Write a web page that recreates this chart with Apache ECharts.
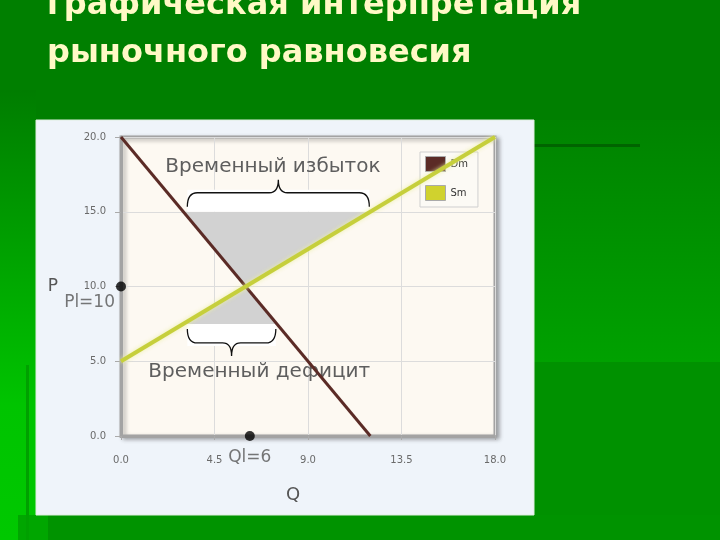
<!DOCTYPE html>
<html>
<head>
<meta charset="utf-8">
<script src="https://cdn.jsdelivr.net/npm/echarts@6/dist/echarts.min.js"></script>
<style>
html, body { margin: 0; padding: 0; background: #008a00; }
#chart { width: 720px; height: 540px; }
</style>
</head>
<body>
<div id="chart"></div>
<script>
// спрос и предложение
var demandLine = [[0, 20], [12, 0]]
var supplyLine = [[0, 5], [18, 20]]
// серые треугольники избытка и дефицита
var surplusArea = [[3, 15], [12, 15], [6, 10]]
var deficitArea = [[3, 7.5], [7.5, 7.5], [6, 10]]
// точки на осях
var eqPoints = [[0, 10, 'Pl=10'], [6.2, 0, 'Ql=6']]
// скобки: от Q, до Q, цена, подпись
var braces = [[3, 12, 15, 'Временный избыток'], [3, 7.5, 7.5, 'Временный дефицит']]
var xTicks = [0, 4.5, 9, 13.5, 18]
var yTicks = [0, 5, 10, 15, 20]
var titleLines = ['графическая интерпретация', 'рыночного равновесия']

var eqPrice = eqPoints[0][1]

function flat (tri) {
  var out = []
  tri.forEach(function (p) { out.push(p[0], p[1]) })
  return out
}

function renderTriangle (params, api) {
  var pts = []
  for (var i = 0; i < 3; i++) {
    pts.push(api.coord([api.value(i * 2), api.value(i * 2 + 1)]))
  }
  return { type: 'polygon', shape: { points: pts }, style: { fill: '#d2d2d2' } }
}

function renderBrace (params, api) {
  var a = api.coord([api.value(0), api.value(2)])
  var b = api.coord([api.value(1), api.value(2)])
  var up = api.value(2) > eqPrice
  var s = up ? -1 : 1
  var x1 = a[0] + 4
  var x2 = b[0] - 1
  var mid = (x1 + x2) / 2
  var y0 = a[1] + s * 5
  var yh = a[1] + s * 19
  var yt = a[1] + s * 32
  var d = 'M' + x1 + ' ' + y0 + ' Q' + x1 + ' ' + yh + ' ' + (x1 + 10) + ' ' + yh +
    ' L' + (mid - 9) + ' ' + yh + ' Q' + mid + ' ' + yh + ' ' + mid + ' ' + yt +
    ' Q' + mid + ' ' + yh + ' ' + (mid + 9) + ' ' + yh +
    ' L' + (x2 - 10) + ' ' + yh + ' Q' + x2 + ' ' + yh + ' ' + x2 + ' ' + y0
  return {
    type: 'group',
    children: [
      { type: 'rect', shape: { x: x1, y: up ? a[1] - 22 : a[1], width: x2 - x1, height: 22 }, style: { fill: '#ffffff' } },
      { type: 'path', shape: { pathData: d }, style: { fill: null, stroke: '#111', lineWidth: 1.3 } },
      {
        type: 'text',
        style: {
          text: braces[params.dataIndex][3],
          x: up ? a[0] - 18 : a[0] - 35,
          y: up ? a[1] - 45 : a[1] + 48,
          fill: '#5e5e5e',
          fontSize: 20,
          fontFamily: 'DejaVu Sans',
          textAlign: 'left',
          textVerticalAlign: 'middle'
        }
      }
    ]
  }
}

var chart = echarts.init(document.getElementById('chart'))

var option = {
  backgroundColor: '#008c00',
  animation: false,
  graphic: [
    { type: 'rect', z: -10, shape: { x: 0, y: 0, width: 720, height: 120 }, style: { fill: '#007f00' } },
    { type: 'rect', z: -10, shape: { x: 534, y: 120, width: 186, height: 242 },
      style: { fill: new echarts.graphic.LinearGradient(0, 0, 0, 1, [{ offset: 0, color: '#008300' }, { offset: 1, color: '#00a100' }]) } },
    { type: 'rect', z: -10, shape: { x: 534, y: 362, width: 186, height: 178 }, style: { fill: '#009100' } },
    { type: 'rect', z: -9, shape: { x: 534, y: 144, width: 106, height: 3 }, style: { fill: '#006400' } },
    { type: 'rect', z: -10, shape: { x: 0, y: 90, width: 36, height: 450 },
      style: { fill: new echarts.graphic.LinearGradient(0, 0, 0, 1, [{ offset: 0, color: '#007d00' }, { offset: 0.7, color: '#00c400' }, { offset: 1, color: '#00c800' }]) } },
    { type: 'rect', z: -9, shape: { x: 26, y: 365, width: 3, height: 175 }, style: { fill: '#00a000' } },
    { type: 'rect', z: -10, shape: { x: 36, y: 515, width: 684, height: 25 }, style: { fill: '#009300' } },
    { type: 'rect', z: -10, shape: { x: 18, y: 515, width: 30, height: 25 }, style: { fill: '#00a600' } },
    { type: 'rect', z: -8, shape: { x: 36, y: 120, width: 498, height: 395 }, style: { fill: '#eff4fa', stroke: '#dfeedf', lineWidth: 1 } },
    { type: 'text', z: 10, style: { text: titleLines[0], x: 47, y: 6, fill: '#fff9c6', fontSize: 32, fontWeight: 'bold', fontFamily: 'DejaVu Sans', textVerticalAlign: 'middle' } },
    { type: 'text', z: 10, style: { text: titleLines[1], x: 47, y: 54, fill: '#fff9c6', fontSize: 32, fontWeight: 'bold', fontFamily: 'DejaVu Sans', textVerticalAlign: 'middle' } }
  ],
  grid: {
    left: 121,
    top: 137,
    width: 374,
    height: 299,
    show: true,
    backgroundColor: '#fdf9f2',
    borderColor: '#a3a3a3',
    borderWidth: 3,
    shadowColor: 'rgba(0,0,0,0.3)',
    shadowBlur: 4,
    shadowOffsetX: 3,
    shadowOffsetY: 2
  },
  legend: {
    data: ['Dm', 'Sm'],
    orient: 'vertical',
    left: 420,
    top: 152,
    padding: [4, 10, 6, 5],
    itemWidth: 20,
    itemHeight: 15,
    itemGap: 13,
    icon: 'rect',
    borderColor: '#cfcfcf',
    borderWidth: 1,
    backgroundColor: '#fcfaf5',
    itemStyle: { borderColor: '#aaa', borderWidth: 1 },
    textStyle: { fontSize: 10, color: '#333', fontFamily: 'DejaVu Sans' }
  },
  xAxis: {
    type: 'value',
    min: xTicks[0],
    max: xTicks[xTicks.length - 1],
    interval: xTicks[1] - xTicks[0],
    name: 'Q',
    nameLocation: 'middle',
    nameGap: 50,
    nameTextStyle: { fontSize: 18, color: '#555', fontFamily: 'DejaVu Sans', padding: [0, 30, 0, 0] },
    axisLine: { lineStyle: { color: '#a3a3a3', width: 3 } },
    axisTick: { length: 4, lineStyle: { color: '#aaa' } },
    axisLabel: { margin: 19, fontSize: 10, color: '#6a6a6a', fontFamily: 'DejaVu Sans', formatter: function (v) { return v.toFixed(1) } },
    splitLine: { lineStyle: { color: '#dcdcdc' } }
  },
  yAxis: {
    type: 'value',
    min: yTicks[0],
    max: yTicks[yTicks.length - 1],
    interval: yTicks[1] - yTicks[0],
    name: 'P',
    nameLocation: 'middle',
    nameRotate: 0,
    nameGap: 63,
    nameTextStyle: { fontSize: 17, color: '#555', fontFamily: 'DejaVu Sans' },
    axisLine: { lineStyle: { color: '#a3a3a3', width: 3 } },
    axisTick: { length: 6, lineStyle: { color: '#aaa' } },
    axisLabel: { margin: 15, fontSize: 10, color: '#6a6a6a', fontFamily: 'DejaVu Sans', formatter: function (v) { return v.toFixed(1) } },
    splitLine: { lineStyle: { color: '#dcdcdc' } }
  },
  series: [
    {
      type: 'custom',
      renderItem: renderTriangle,
      encode: { x: [0, 2, 4], y: [1, 3, 5] },
      data: [flat(surplusArea), flat(deficitArea)],
      z: 1
    },
    {
      type: 'custom',
      renderItem: renderBrace,
      encode: { x: [0, 1], y: 2 },
      data: braces.map(function (b) { return [b[0], b[1], b[2]] }),
      clip: false,
      z: 2
    },
    {
      name: 'Dm',
      type: 'line',
      data: demandLine,
      symbol: 'none',
      color: '#5b2b26',
      lineStyle: { width: 3, color: '#5b2b26' },
      z: 3
    },
    {
      name: 'Sm',
      type: 'line',
      data: supplyLine,
      symbol: 'none',
      color: '#d0d22e',
      lineStyle: { width: 4, color: '#c6cf3c', shadowBlur: 4, shadowColor: 'rgba(235,240,160,0.9)' },
      z: 4
    },
    {
      type: 'scatter',
      symbolSize: 10,
      clip: false,
      itemStyle: { color: '#000' },
      z: 5,
      data: eqPoints.map(function (p, i) {
        return {
          value: [p[0], p[1]],
          label: {
            show: true,
            formatter: p[2],
            position: i === 0 ? [-1, 13] : [5, 18],
            align: i === 0 ? 'right' : 'center',
            verticalAlign: 'top',
            fontSize: 17,
            color: '#555',
            fontFamily: 'DejaVu Sans'
          }
        }
      })
    }
  ]
}

chart.setOption(option)
</script>
</body>
</html>
